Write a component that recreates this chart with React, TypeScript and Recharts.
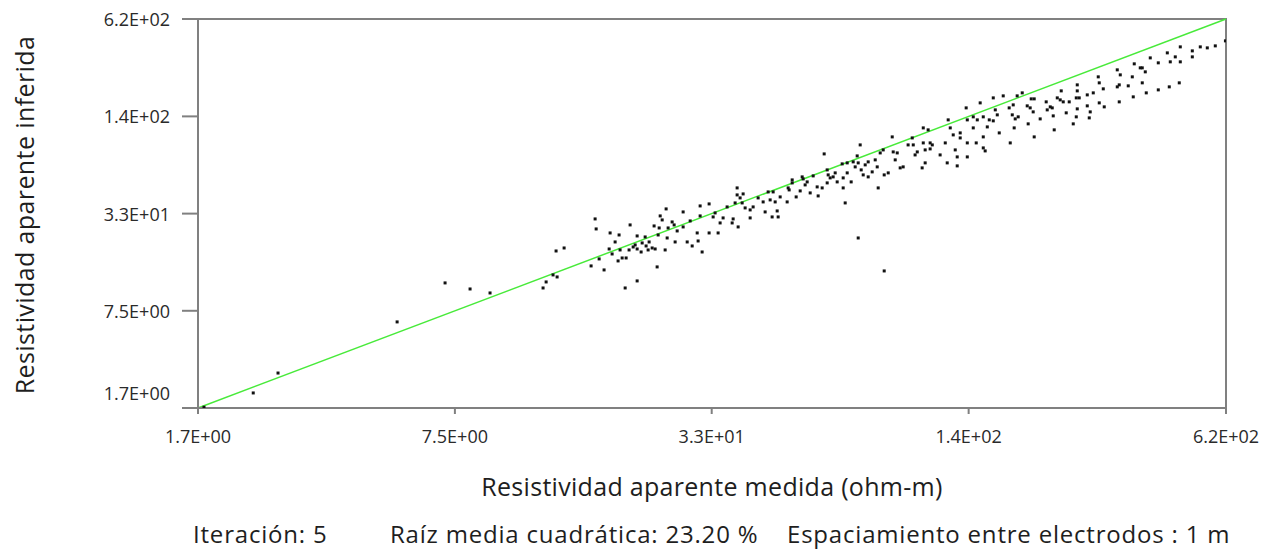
import React from 'react';
import {
  ScatterChart,
  Scatter,
  XAxis,
  YAxis,
  ReferenceLine,
  ReferenceArea,
} from 'recharts';

const POINTS: [number, number][] = [
  [1.78, 1.74], [2.36, 2.16], [2.72, 2.92], [5.38, 6.33], [7.08, 11.42], [8.17, 10.42], [9.16, 9.81],
  [12.41, 10.58], [12.63, 11.59], [13.14, 12.89], [13.45, 12.5], [13.37, 18.52], [14.0, 19.38],
  [16.34, 14.77], [17.11, 16.42], [17.6, 13.9], [16.72, 30.08], [16.82, 25.85], [18.22, 24.33],
  [18.12, 19.09], [18.43, 17.7], [18.75, 21.23], [19.18, 23.6], [19.29, 18.81], [19.07, 15.93],
  [19.52, 16.66], [19.97, 16.66], [19.86, 10.58], [20.43, 27.47], [20.31, 18.81], [20.79, 19.68],
  [21.27, 23.25], [21.03, 20.29], [21.27, 19.09], [21.27, 11.77], [21.76, 18.24], [21.89, 20.91],
  [22.27, 22.9], [22.39, 19.98], [22.78, 21.23], [22.65, 18.81], [23.18, 19.38], [23.58, 19.09],
  [23.85, 14.55], [23.44, 27.05], [23.99, 23.6], [24.13, 26.24], [24.27, 31.48], [24.55, 29.63],
  [25.11, 35.0], [25.26, 22.55], [24.97, 18.81], [25.4, 26.24], [25.99, 28.74], [26.29, 27.47],
  [26.44, 21.23], [26.75, 25.08], [27.68, 33.44], [27.68, 26.65], [28.33, 21.23], [28.82, 29.18],
  [29.15, 19.98], [30.0, 24.33], [30.16, 21.55], [30.51, 31.48], [30.51, 36.62], [30.86, 18.24],
  [32.12, 37.75], [32.12, 24.33], [32.87, 31.0], [33.24, 32.94], [33.82, 24.33], [34.21, 28.31],
  [34.8, 30.54], [35.61, 36.07], [36.65, 28.31], [36.86, 30.08], [37.28, 38.32], [37.71, 48.1],
  [37.71, 43.26], [37.93, 26.65], [38.36, 41.34],
  [39.03, 43.92], [38.81, 38.32], [39.48, 35.53], [40.63, 34.47], [40.63, 30.54], [41.33, 36.07],
  [42.53, 41.34], [43.77, 38.91], [44.27, 33.44], [45.04, 45.27], [45.56, 40.11], [46.08, 31.0],
  [46.35, 45.27], [46.89, 38.91], [47.43, 33.95], [47.7, 31.0], [48.25, 41.97], [50.22, 38.91],
  [50.51, 48.1], [50.8, 46.67], [51.69, 54.3], [51.69, 51.89], [52.88, 41.97], [54.11, 45.96],
  [54.73, 56.83], [55.04, 55.13], [55.67, 50.34], [56.32, 52.68], [57.3, 44.59], [58.29, 57.69],
  [59.64, 48.84], [59.98, 42.61], [61.37, 48.1], [62.08, 80.47], [63.16, 63.18], [63.16, 51.89],
  [63.52, 58.57], [64.25, 55.97], [65.36, 56.83], [66.12, 60.38], [66.88, 52.68], [68.83, 69.2],
  [69.22, 55.97], [69.22, 48.1], [70.02, 38.32], [70.83, 70.25], [70.83, 60.38], [72.46, 52.68],
  [73.3, 71.33], [74.15, 66.12], [75.0, 78.07], [75.44, 70.25], [75.44, 22.55], [76.3, 92.22],
  [76.74, 63.18], [77.63, 58.57], [78.52, 68.16], [79.88, 71.33], [79.88, 56.83], [81.73, 61.3],
  [83.16, 73.52], [84.12, 66.12], [84.59, 48.1], [85.57, 81.69], [87.05, 85.5], [87.55, 58.57],
  [89.59, 60.38], [91.67, 104.1], [92.19, 82.94], [93.25, 73.52], [94.33, 81.69], [95.94, 65.13],
  [97.6, 66.12], [100.4, 92.22], [102.8, 102.5], [103.4, 92.22], [104.5, 79.25], [105.8, 82.94],
  [108.8, 65.13], [109.5, 119.3], [109.5, 95.05], [110.7, 70.25], [110.7, 85.5], [112.6, 115.8],
  [113.9, 95.05], [113.9, 86.8], [115.3, 92.22], [120.6, 79.25], [124.2, 95.05], [125.6, 70.25],
  [127.8, 119.3], [130.0, 107.3], [131.5, 85.5], [133.0, 76.9], [133.0, 67.13], [126.3, 134.7],
  [87.55, 13.69],
  [135.3, 110.6], [135.3, 102.5], [140.9, 76.9], [140.0, 161.5], [140.9, 134.7], [140.9, 95.05],
  [145.8, 141.0], [145.8, 119.3], [148.3, 95.05], [149.2, 134.7], [151.7, 174.2], [154.4, 141.0],
  [154.4, 104.1], [154.4, 88.12], [156.1, 84.21], [158.0, 121.1], [159.8, 134.7], [163.5, 187.9],
  [163.5, 132.7], [165.4, 156.7], [167.3, 145.3], [169.2, 110.6], [173.1, 193.7], [180.2, 95.05],
  [179.1, 161.5], [182.3, 145.3], [183.3, 169.0], [184.3, 119.3], [185.4, 136.7], [187.5, 193.7],
  [188.6, 141.0], [193.0, 202.7], [198.6, 166.5], [199.7, 126.8], [202.0, 161.5], [203.2, 185.1],
  [206.7, 185.1], [205.5, 152.0], [206.7, 104.1], [213.9, 136.7], [221.4, 176.9], [222.7, 156.7],
  [226.6, 164.0], [229.2, 161.5], [230.5, 143.1], [231.8, 115.8], [235.9, 187.9], [239.9, 182.3],
  [241.3, 208.9], [244.1, 176.9], [248.3, 149.8], [252.6, 176.9], [258.5, 126.8], [263.0, 187.9],
  [264.5, 159.1], [264.5, 208.9], [264.5, 228.8], [263.0, 141.0], [267.5, 187.9], [280.1, 196.6],
  [280.1, 166.5], [283.3, 138.8], [284.9, 152.0], [289.9, 202.7], [298.3, 258.3], [300.0, 235.9],
  [300.0, 174.2], [307.0, 215.4], [308.7, 164.0], [332.6, 287.2], [332.6, 222.0], [336.4, 228.8],
  [338.4, 266.2], [336.4, 176.9], [354.2, 225.4], [362.5, 258.3], [364.5, 190.8], [366.6, 314.5],
  [379.4, 296.0], [383.8, 296.0], [383.8, 235.9], [390.5, 278.6], [392.7, 202.7], [401.8, 344.2],
  [420.7, 212.1], [420.7, 319.3], [443.0, 371.3], [448.0, 222.0], [450.6, 324.2], [463.7, 349.5],
  [474.4, 235.9], [477.2, 406.6], [477.2, 324.2], [511.2, 382.7], [511.2, 349.5], [535.1, 406.6],
  [557.0, 400.5], [583.1, 412.8], [618.0, 445.3],
];

const DOMAIN: [number, number] = [1.72, 620];
const TICKS = [1.72, 7.49, 32.6, 142, 620];
const TICK_LABELS = ['1.7E+00', '7.5E+00', '3.3E+01', '1.4E+02', '6.2E+02'];

const X_TITLE = 'Resistividad aparente medida (ohm-m)';
const Y_TITLE = 'Resistividad aparente inferida';
const FOOTER = ['Iteración: 5', 'Raíz media cuadrática: 23.20 %', 'Espaciamiento entre electrodos : 1 m'];

const FONT = '"Open Sans", "Noto Sans", sans-serif';
const FRAME = '#808080';

const data = POINTS.map(([x, y]) => ({ x, y }));

const labelFor = (v: number) => TICK_LABELS[TICKS.indexOf(v)] ?? '';

const XTick = ({ x, y, payload }: any) => (
  <text x={x} y={y} dy={22} textAnchor="middle" dominantBaseline="central" fontSize={18} fill="#2a2a2a" fontFamily={FONT}>
    {labelFor(payload.value)}
  </text>
);

const YTick = ({ x, y, payload }: any) => (
  <text
    x={x}
    y={y}
    dy={payload.value === DOMAIN[0] ? -15 : 0}
    textAnchor="end"
    dominantBaseline="central"
    fontSize={18}
    fill="#2a2a2a"
    fontFamily={FONT}
  >
    {labelFor(payload.value)}
  </text>
);

const Dot = (p: any) => <rect x={p.cx - 1.5} y={p.cy - 1.5} width={3} height={3} fill="#111" />;

const footerStyle: React.CSSProperties = {
  position: 'absolute',
  top: 509,
  fontSize: 24,
  letterSpacing: 0.8,
  lineHeight: '34px',
  whiteSpace: 'nowrap',
};

export default function App() {
  return (
    <div style={{ position: 'relative', width: 1255, height: 543, fontFamily: FONT, color: '#1e1e1e' }}>
      <ScatterChart width={1255} height={543} margin={{ top: 11, right: 37, bottom: 103, left: 110 }}>
        <XAxis
          type="number"
          dataKey="x"
          scale="log"
          domain={DOMAIN}
          ticks={TICKS}
          allowDataOverflow
          height={40}
          tickSize={6}
          tickMargin={0}
          tick={<XTick />}
          axisLine={{ stroke: FRAME, strokeWidth: 2 }}
          tickLine={{ stroke: FRAME, strokeWidth: 2 }}
        />
        <YAxis
          type="number"
          dataKey="y"
          scale="log"
          domain={DOMAIN}
          ticks={TICKS}
          allowDataOverflow
          width={80}
          tickSize={16}
          tickMargin={12}
          tick={<YTick />}
          axisLine={{ stroke: FRAME, strokeWidth: 2 }}
          tickLine={{ stroke: FRAME, strokeWidth: 2 }}
        />
        <ReferenceArea x1={DOMAIN[0]} x2={DOMAIN[1]} y1={DOMAIN[0]} y2={DOMAIN[1]} fill="none" stroke={FRAME} strokeWidth={2} />
        <ReferenceLine
          segment={[{ x: DOMAIN[0], y: DOMAIN[0] }, { x: DOMAIN[1], y: DOMAIN[1] }]}
          stroke="#48ea3a"
          strokeWidth={1.5}
        />
        <Scatter data={data} shape={Dot} isAnimationActive={false} />
      </ScatterChart>

      <div
        style={{
          position: 'absolute',
          left: 190,
          top: 461,
          width: 1028,
          textAlign: 'center',
          fontSize: 25,
          letterSpacing: 0.3,
          lineHeight: '34px',
        }}
      >
        {X_TITLE}
      </div>
      <div
        style={{
          position: 'absolute',
          left: 16 - 200,
          top: 207 - 17,
          width: 400,
          textAlign: 'center',
          fontSize: 25,
          letterSpacing: 0.4,
          lineHeight: '34px',
          transform: 'rotate(-90deg)',
        }}
      >
        {Y_TITLE}
      </div>
      <div style={{ ...footerStyle, left: 185 }}>{FOOTER[0]}</div>
      <div style={{ ...footerStyle, left: 382 }}>{FOOTER[1]}</div>
      <div style={{ ...footerStyle, left: 779 }}>{FOOTER[2]}</div>
    </div>
  );
}
